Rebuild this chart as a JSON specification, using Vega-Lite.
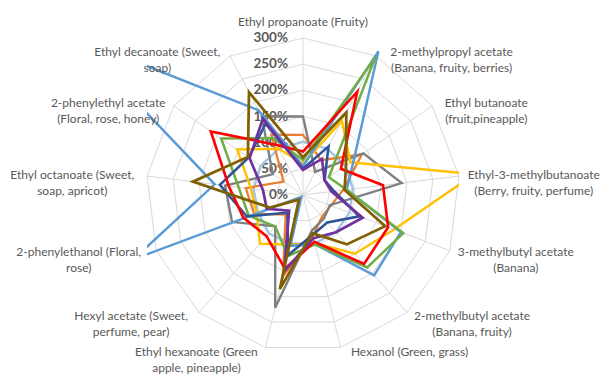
{
  "$schema": "https://vega.github.io/schema/vega-lite/v6.json",
  "width": 312,
  "height": 309,
  "autosize": {"type": "none"},
  "padding": {"left": 147, "top": 38, "right": 141, "bottom": 35},
  "background": "white",
  "config": {"view": {"stroke": null}},
  "datasets": {
    "axes": [
      {"k": 0, "label": "Ethyl propanoate  (Fruity)"},
      {"k": 1, "label": "2-methylpropyl acetate\n(Banana, fruity, berries)"},
      {"k": 2, "label": "Ethyl butanoate\n(fruit,pineapple)"},
      {"k": 3, "label": "Ethyl-3-methylbutanoate\n(Berry, fruity, perfume)"},
      {"k": 4, "label": "3-methylbutyl acetate\n(Banana)"},
      {"k": 5, "label": "2-methylbutyl acetate\n(Banana, fruity)"},
      {"k": 6, "label": "Hexanol  (Green, grass)"},
      {"k": 7, "label": "Ethyl hexanoate  (Green\napple, pineapple)"},
      {"k": 8, "label": "Hexyl acetate  (Sweet,\nperfume, pear)"},
      {"k": 9, "label": "2-phenylethanol  (Floral,\nrose)"},
      {"k": 10, "label": "Ethyl octanoate  (Sweet,\nsoap, apricot)"},
      {"k": 11, "label": "2-phenylethyl acetate\n(Floral, rose, honey)"},
      {"k": 12, "label": "Ethyl decanoate  (Sweet,\nsoap)"}
    ],
    "rings": [
      {"r": 0, "lab": "0%"}, {"r": 50, "lab": "50%"}, {"r": 100, "lab": "100%"},
      {"r": 150, "lab": "150%"}, {"r": 200, "lab": "200%"}, {"r": 250, "lab": "250%"}, {"r": 300, "lab": "300%"}
    ],
    "series": [
      {"s": "S01", "k": 0, "v": 102}, {"s": "S01", "k": 1, "v": 100}, {"s": "S01", "k": 2, "v": 98}, {"s": "S01", "k": 3, "v": 96}, {"s": "S01", "k": 4, "v": 95}, {"s": "S01", "k": 5, "v": 95}, {"s": "S01", "k": 6, "v": 95}, {"s": "S01", "k": 7, "v": 95}, {"s": "S01", "k": 8, "v": 98}, {"s": "S01", "k": 9, "v": 92}, {"s": "S01", "k": 10, "v": 95}, {"s": "S01", "k": 11, "v": 98}, {"s": "S01", "k": 12, "v": 100},
      {"s": "S02", "k": 0, "v": 115}, {"s": "S02", "k": 1, "v": 75}, {"s": "S02", "k": 2, "v": 137}, {"s": "S02", "k": 3, "v": 77}, {"s": "S02", "k": 4, "v": 57}, {"s": "S02", "k": 5, "v": 55}, {"s": "S02", "k": 6, "v": 80}, {"s": "S02", "k": 7, "v": 160}, {"s": "S02", "k": 8, "v": 50}, {"s": "S02", "k": 9, "v": 100}, {"s": "S02", "k": 10, "v": 110}, {"s": "S02", "k": 11, "v": 45}, {"s": "S02", "k": 12, "v": 130},
      {"s": "S03", "k": 0, "v": 150}, {"s": "S03", "k": 1, "v": 50}, {"s": "S03", "k": 2, "v": 140}, {"s": "S03", "k": 3, "v": 190}, {"s": "S03", "k": 4, "v": 55}, {"s": "S03", "k": 5, "v": 60}, {"s": "S03", "k": 6, "v": 70}, {"s": "S03", "k": 7, "v": 222}, {"s": "S03", "k": 8, "v": 80}, {"s": "S03", "k": 9, "v": 145}, {"s": "S03", "k": 10, "v": 150}, {"s": "S03", "k": 11, "v": 70}, {"s": "S03", "k": 12, "v": 170},
      {"s": "S04", "k": 0, "v": 60}, {"s": "S04", "k": 1, "v": 160}, {"s": "S04", "k": 2, "v": 110}, {"s": "S04", "k": 3, "v": 330}, {"s": "S04", "k": 4, "v": 186}, {"s": "S04", "k": 5, "v": 150}, {"s": "S04", "k": 6, "v": 95}, {"s": "S04", "k": 7, "v": 98}, {"s": "S04", "k": 8, "v": 124}, {"s": "S04", "k": 9, "v": 95}, {"s": "S04", "k": 10, "v": 100}, {"s": "S04", "k": 11, "v": 153}, {"s": "S04", "k": 12, "v": 100},
      {"s": "S05", "k": 0, "v": 55}, {"s": "S05", "k": 1, "v": 310}, {"s": "S05", "k": 2, "v": 118}, {"s": "S05", "k": 3, "v": 84}, {"s": "S05", "k": 4, "v": 200}, {"s": "S05", "k": 5, "v": 205}, {"s": "S05", "k": 6, "v": 97}, {"s": "S05", "k": 7, "v": 100}, {"s": "S05", "k": 8, "v": 5}, {"s": "S05", "k": 9, "v": 347}, {"s": "S05", "k": 10, "v": 170}, {"s": "S05", "k": 11, "v": 530}, {"s": "S05", "k": 12, "v": 183},
      {"s": "S06", "k": 0, "v": 67}, {"s": "S06", "k": 1, "v": 298}, {"s": "S06", "k": 2, "v": 60}, {"s": "S06", "k": 3, "v": 84}, {"s": "S06", "k": 4, "v": 205}, {"s": "S06", "k": 5, "v": 185}, {"s": "S06", "k": 6, "v": 97}, {"s": "S06", "k": 7, "v": 120}, {"s": "S06", "k": 8, "v": 80}, {"s": "S06", "k": 9, "v": 111}, {"s": "S06", "k": 10, "v": 124}, {"s": "S06", "k": 11, "v": 190}, {"s": "S06", "k": 12, "v": 123},
      {"s": "S07", "k": 0, "v": 50}, {"s": "S07", "k": 1, "v": 105}, {"s": "S07", "k": 2, "v": 50}, {"s": "S07", "k": 3, "v": 60}, {"s": "S07", "k": 4, "v": 115}, {"s": "S07", "k": 5, "v": 70}, {"s": "S07", "k": 6, "v": 78}, {"s": "S07", "k": 7, "v": 118}, {"s": "S07", "k": 8, "v": 45}, {"s": "S07", "k": 9, "v": 115}, {"s": "S07", "k": 10, "v": 160}, {"s": "S07", "k": 11, "v": 126}, {"s": "S07", "k": 12, "v": 154},
      {"s": "S08", "k": 0, "v": 83}, {"s": "S08", "k": 1, "v": 223}, {"s": "S08", "k": 2, "v": 88}, {"s": "S08", "k": 3, "v": 154}, {"s": "S08", "k": 4, "v": 174}, {"s": "S08", "k": 5, "v": 176}, {"s": "S08", "k": 6, "v": 92}, {"s": "S08", "k": 7, "v": 145}, {"s": "S08", "k": 8, "v": 105}, {"s": "S08", "k": 9, "v": 122}, {"s": "S08", "k": 10, "v": 143}, {"s": "S08", "k": 11, "v": 214}, {"s": "S08", "k": 12, "v": 108},
      {"s": "S09", "k": 0, "v": 48}, {"s": "S09", "k": 1, "v": 78}, {"s": "S09", "k": 2, "v": 50}, {"s": "S09", "k": 3, "v": 55}, {"s": "S09", "k": 4, "v": 122}, {"s": "S09", "k": 5, "v": 95}, {"s": "S09", "k": 6, "v": 85}, {"s": "S09", "k": 7, "v": 150}, {"s": "S09", "k": 8, "v": 40}, {"s": "S09", "k": 9, "v": 74}, {"s": "S09", "k": 10, "v": 77}, {"s": "S09", "k": 11, "v": 124}, {"s": "S09", "k": 12, "v": 165},
      {"s": "S10", "k": 0, "v": 72}, {"s": "S10", "k": 1, "v": 178}, {"s": "S10", "k": 2, "v": 100}, {"s": "S10", "k": 3, "v": 80}, {"s": "S10", "k": 4, "v": 168}, {"s": "S10", "k": 5, "v": 126}, {"s": "S10", "k": 6, "v": 75}, {"s": "S10", "k": 7, "v": 185}, {"s": "S10", "k": 8, "v": 12}, {"s": "S10", "k": 9, "v": 68}, {"s": "S10", "k": 10, "v": 212}, {"s": "S10", "k": 11, "v": 128}, {"s": "S10", "k": 12, "v": 222}
    ]
  },
  "layer": [
    {
      "data": {"name": "axes"},
      "transform": [
        {"calculate": "[50,100,150,200,250,300]", "as": "r"},
        {"flatten": ["r"]},
        {"calculate": "datum.k*2*PI/13", "as": "th"},
        {"calculate": "datum.r*sin(datum.th)", "as": "x"},
        {"calculate": "datum.r*cos(datum.th)", "as": "y"}
      ],
      "mark": {"type": "line", "interpolate": "linear-closed", "stroke": "#D9D9D9", "strokeWidth": 1},
      "encoding": {
        "x": {"field": "x", "type": "quantitative", "scale": {"domain": [-298.1, 298.1], "nice": false, "zero": false}, "axis": null},
        "y": {"field": "y", "type": "quantitative", "scale": {"domain": [-290.4, 300], "nice": false, "zero": false}, "axis": null},
        "detail": {"field": "r", "type": "nominal"},
        "order": {"field": "k", "type": "quantitative"}
      }
    },
    {
      "data": {"name": "axes"},
      "transform": [
        {"calculate": "datum.k*2*PI/13", "as": "th"},
        {"calculate": "0", "as": "x0"},
        {"calculate": "300*sin(datum.th)", "as": "x"},
        {"calculate": "300*cos(datum.th)", "as": "y"}
      ],
      "mark": {"type": "rule", "stroke": "#D9D9D9", "strokeWidth": 1},
      "encoding": {
        "x": {"field": "x0", "type": "quantitative"},
        "y": {"field": "x0", "type": "quantitative"},
        "x2": {"field": "x"},
        "y2": {"field": "y"}
      }
    },
    {
      "data": {"name": "rings"},
      "transform": [{"calculate": "0", "as": "x0"}],
      "mark": {"type": "text", "align": "right", "baseline": "middle", "dx": -15, "font": "Lato", "fontSize": 13.5, "fontWeight": "bold", "fill": "#595959"},
      "encoding": {
        "x": {"field": "x0", "type": "quantitative"},
        "y": {"field": "r", "type": "quantitative"},
        "text": {"field": "lab", "type": "nominal"}
      }
    },
    {
      "data": {"name": "series"},
      "transform": [
        {"calculate": "datum.k*2*PI/13", "as": "th"},
        {"calculate": "datum.v*sin(datum.th)", "as": "x"},
        {"calculate": "datum.v*cos(datum.th)", "as": "y"}
      ],
      "mark": {"type": "line", "interpolate": "linear-closed", "clip": true, "strokeJoin": "miter"},
      "encoding": {
        "x": {"field": "x", "type": "quantitative"},
        "y": {"field": "y", "type": "quantitative"},
        "color": {"field": "s", "type": "nominal", "legend": null,
          "scale": {"domain": ["S01","S02","S03","S04","S05","S06","S07","S08","S09","S10"],
                    "range": ["#9DC3E6","#ED7D31","#7F7F7F","#FFC000","#5B9BD5","#70AD47","#2F5597","#FF0000","#7030A0","#806000"]}},
        "strokeWidth": {"field": "s", "type": "nominal", "legend": null,
          "scale": {"domain": ["S01","S02","S03","S04","S05","S06","S07","S08","S09","S10"],
                    "range": [2.25, 2.75, 2.75, 2.75, 2.75, 2.75, 2.75, 2.75, 2.75, 3]}},
        "order": {"field": "k", "type": "quantitative"}
      }
    },
    {
      "data": {"name": "axes"},
      "transform": [
        {"calculate": "datum.k*2*PI/13", "as": "th"},
        {"calculate": "sin(datum.th)", "as": "sn"},
        {"calculate": "cos(datum.th)", "as": "cs"},
        {"calculate": "max(length(split(datum.label,'\\n')[0]), length(peek(split(datum.label,'\\n'))))", "as": "ml"},
        {"calculate": "abs(datum.sn) < 0.1 ? 0 : 300*datum.sn + (datum.sn > 0 ? 1 : -1)*(2 + 4*abs(datum.sn) + datum.ml*2.87)*1.9108", "as": "lx"},
        {"calculate": "abs(datum.sn) < 0.1 ? 300 + 16*1.9108 : 300*datum.cs + 5*datum.cs*1.9108", "as": "ly"}
      ],
      "mark": {"type": "text", "align": "center", "baseline": "middle", "lineBreak": "\n", "lineHeight": 16, "font": "Lato", "fontSize": 12, "fill": "#595959"},
      "encoding": {
        "x": {"field": "lx", "type": "quantitative"},
        "y": {"field": "ly", "type": "quantitative"},
        "text": {"field": "label", "type": "nominal"}
      }
    }
  ]
}
